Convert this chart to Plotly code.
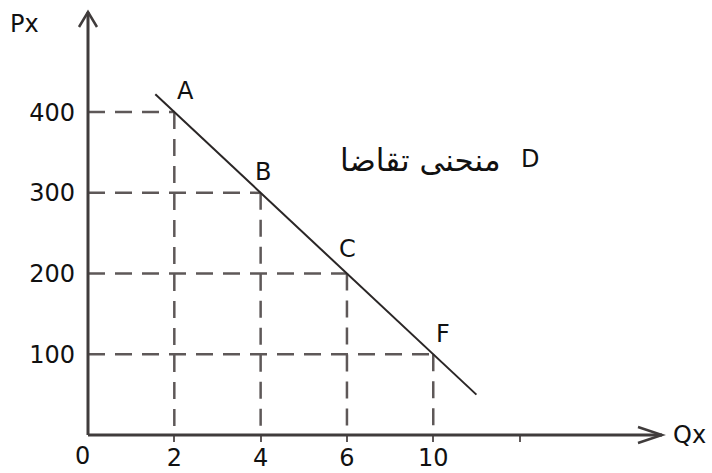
import numpy as np
import plotly.graph_objects as go

# Demand schedule: quantity demanded (Qx) at each price (Px)
point_names = ["A", "B", "C", "F"]
qx = [2, 4, 6, 10]
px = [400, 300, 200, 100]

# Quantity axis is drawn with evenly spaced labelled slots
q_labels = ["0", "2", "4", "6", "10", ""]
p_ticks = [100, 200, 300, 400]

curve_name = "منحنی تقاضا"
curve_letter = "D"

slots = [q_labels.index(str(q)) for q in qx]

# Straight demand line through the points, extended a little past A and F
slope, intercept = np.polyfit(slots, px, 1)
line_x = np.array([slots[0] - 0.22, slots[-1] + 0.5])
line_y = slope * line_x + intercept

W, H = 574, 423           # plot area in pixels
ML, MR, MT, MB = 88, 712 - 88 - 574, 12, 473 - 12 - 423
x_range = [0, 6.65]
y_range = [0, 524]

FONT = "DejaVu Sans"
AXIS_COL = "#403c3c"
DASH_COL = "#5e5858"

fig = go.Figure()

# Dashed guide lines from each point to both axes
for s, p in zip(slots, px):
    fig.add_trace(go.Scatter(x=[0, s], y=[p, p], mode="lines",
                             line=dict(color=DASH_COL, width=2.5, dash="17px,10px"),
                             hoverinfo="skip", showlegend=False))
    fig.add_trace(go.Scatter(x=[s, s], y=[p, 0], mode="lines",
                             line=dict(color=DASH_COL, width=2.5, dash="17px,10px"),
                             hoverinfo="skip", showlegend=False))

# Demand curve
fig.add_trace(go.Scatter(x=line_x, y=line_y, mode="lines",
                         line=dict(color="#2a2626", width=2),
                         hoverinfo="skip", showlegend=False))

# Point letters
shifts = {"A": (11, 21), "B": (2, 21), "C": (1, 25), "F": (10, 20)}
for name, s, p in zip(point_names, slots, px):
    dx, dy = shifts[name]
    fig.add_annotation(x=s, y=p, text=name, showarrow=False, xshift=dx, yshift=dy,
                       font=dict(family=FONT, size=24, color="#111"))

# Axes with open arrow heads
ax_w = 3
fig.add_shape(type="line", xref="paper", yref="paper", x0=0, y0=0, x1=1, y1=0,
              line=dict(color=AXIS_COL, width=ax_w))
fig.add_shape(type="line", xref="paper", yref="paper", x0=0, y0=0, x1=0, y1=1,
              line=dict(color=AXIS_COL, width=ax_w))
fig.add_shape(type="path", xref="paper", yref="paper",
              path=f"M {1 - 24 / W} {8 / H} L 1 0 L {1 - 24 / W} {-8 / H}",
              line=dict(color=AXIS_COL, width=2.5))
fig.add_shape(type="path", xref="paper", yref="paper",
              path=f"M {-9 / W} {1 - 15 / H} L 0 1 L {9 / W} {1 - 15 / H}",
              line=dict(color=AXIS_COL, width=2.5))

# Axis titles
fig.add_annotation(xref="paper", yref="paper", x=-64 / W, y=1 - 12 / H, text="Px",
                   showarrow=False, xanchor="center", yanchor="middle",
                   font=dict(family=FONT, size=24, color="#111"))
fig.add_annotation(xref="paper", yref="paper", x=1 + 27 / W, y=0, text="Qx",
                   showarrow=False, xanchor="center", yanchor="middle",
                   font=dict(family=FONT, size=24, color="#111"))

# Origin label, set slightly left of the corner
fig.add_annotation(x=0, y=0, text=q_labels[0], showarrow=False, xshift=-6, yshift=-21,
                   xanchor="center", yanchor="middle",
                   font=dict(family=FONT, size=24, color="#111"))

# Curve label: Persian name with the letter D to its right
fig.add_annotation(xref="paper", yref="paper", x=(503 - ML) / W, y=(435 - 160) / H,
                   text=curve_name, showarrow=False, xanchor="right", yanchor="middle",
                   font=dict(family=FONT, size=31, color="#111"))
fig.add_annotation(xref="paper", yref="paper", x=(530 - ML) / W, y=(435 - 159) / H,
                   text=curve_letter, showarrow=False, xanchor="center", yanchor="middle",
                   font=dict(family=FONT, size=24, color="#111"))

fig.update_xaxes(range=x_range, showgrid=False, zeroline=False, showline=False,
                 automargin=False,
                 tickvals=list(range(1, len(q_labels))), ticktext=q_labels[1:],
                 ticks="outside", ticklen=6, tickwidth=2, tickcolor=DASH_COL,
                 ticklabelstandoff=-5,
                 tickfont=dict(family=FONT, size=24, color="#111"))
fig.update_yaxes(range=y_range, showgrid=False, zeroline=False, showline=False,
                 automargin=False,
                 tickvals=p_ticks, ticks="", ticklabelstandoff=12,
                 tickfont=dict(family=FONT, size=24, color="#111"))

fig.update_layout(width=712, height=473, autosize=False,
                  margin=dict(l=ML, r=MR, t=MT, b=MB),
                  plot_bgcolor="white", paper_bgcolor="white")

fig.write_html("out.html")
